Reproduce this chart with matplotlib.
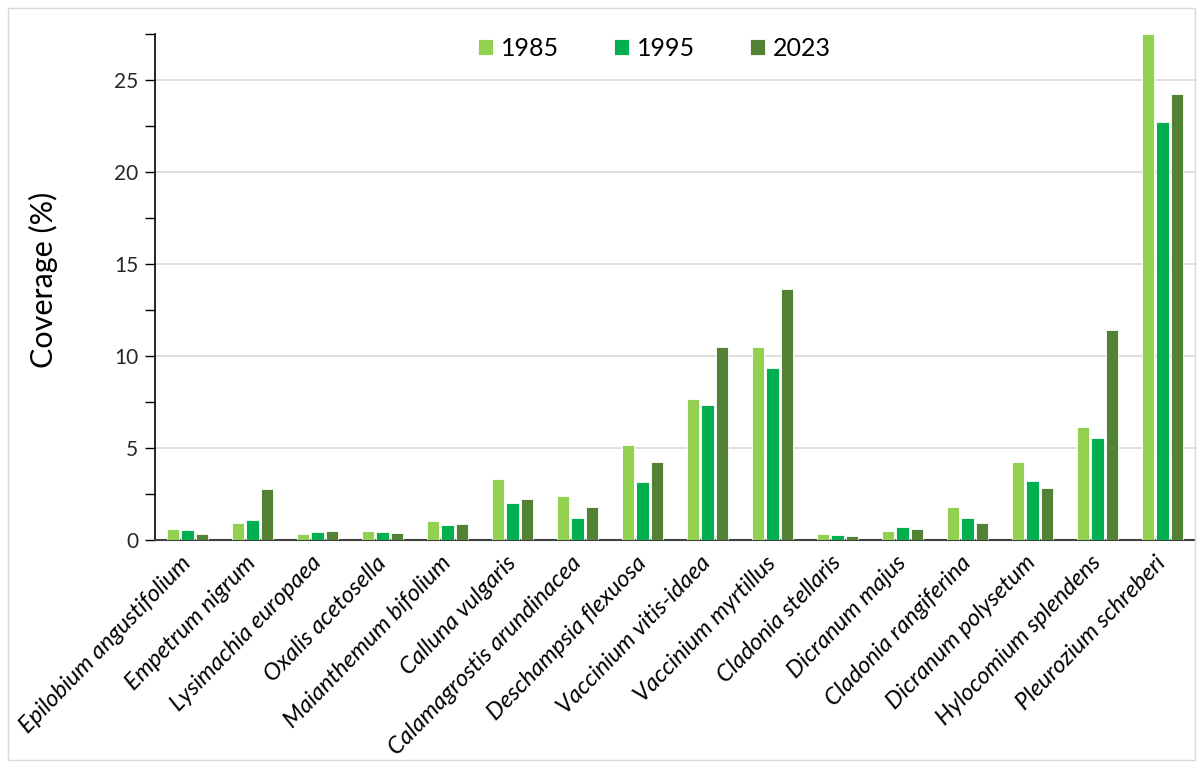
import matplotlib.pyplot as plt
import numpy as np
from matplotlib.patches import Rectangle
from matplotlib.ticker import MultipleLocator

plt.rcParams['font.family'] = ['Lato', 'DejaVu Sans']

# species names and coverage values
species = ["Epilobium angustifolium", "Empetrum nigrum", "Lysimachia europaea",
           "Oxalis acetosella", "Maianthemum bifolium", "Calluna vulgaris",
           "Calamagrostis arundinacea", "Deschampsia flexuosa", "Vaccinium vitis-idaea",
           "Vaccinium myrtillus", "Cladonia stellaris", "Dicranum majus",
           "Cladonia rangiferina", "Dicranum polysetum", "Hylocomium splendens",
           "Pleurozium schreberi"]
years = ["1985", "1995", "2023"]
cov_1985 = [0.58, 0.94, 0.33, 0.47, 1.03, 3.30, 2.41, 5.15, 7.65, 10.50, 0.31, 0.51, 1.81, 4.24, 6.13, 27.5]
cov_1995 = [0.57, 1.09, 0.43, 0.45, 0.83, 2.03, 1.18, 3.13, 7.32, 9.35, 0.27, 0.71, 1.21, 3.23, 5.55, 22.71]
cov_2023 = [0.33, 2.79, 0.47, 0.40, 0.89, 2.25, 1.81, 4.24, 10.50, 13.62, 0.24, 0.58, 0.95, 2.84, 11.42, 24.24]
colors = ["#92D050", "#00B050", "#548235"]

fig = plt.figure(figsize=(12.03, 7.62), dpi=100)
ax = fig.add_axes([155/1203, 1 - 540/762, 1040/1203, 506/762])

x = np.arange(len(species))
w = 0.19
step = 0.22
for i, (vals, c, lab) in enumerate(zip([cov_1985, cov_1995, cov_2023], colors, years)):
    ax.bar(x + (i - 1) * step, vals, width=w, color=c, edgecolor="white", linewidth=0.6, label=lab, zorder=3)

ax.set_xlim(-0.5, len(species) - 0.5)
ax.set_ylim(0, 27.5)
ax.yaxis.set_major_locator(MultipleLocator(5))
ax.yaxis.set_minor_locator(MultipleLocator(2.5))
ax.grid(axis="y", which="major", color="#d9d9d9", linewidth=1.2, zorder=0)
ax.set_axisbelow(True)

for s in ["top", "right"]:
    ax.spines[s].set_visible(False)
ax.spines["left"].set_color("black")
ax.spines["left"].set_linewidth(1.2)
ax.spines["bottom"].set_color("#404040")
ax.spines["bottom"].set_linewidth(1.5)

ax.tick_params(axis="y", which="major", length=7, width=1, labelsize=15, pad=5, colors="black", labelcolor="#262626")
ax.tick_params(axis="y", which="minor", length=7, width=1)
ax.tick_params(axis="x", length=0, pad=14)
ax.set_xticks(x)
ax.set_xticklabels(species, rotation=46, ha="right", va="center", rotation_mode="anchor",
                   fontsize=17, style="italic", color="black")

ax.set_ylabel("Coverage (%)", fontsize=22)
ax.yaxis.set_label_coords(-0.093, 0.515)

ax.legend(loc="center", ncol=3, frameon=False, fontsize=18, handlelength=0.6,
          handleheight=0.6, handletextpad=0.32, columnspacing=2.2, bbox_to_anchor=(0.48, 0.972))

fig.patches.append(Rectangle((8/1203, 0.002), 1 - 16/1203, 1 - 8/762 - 0.002, transform=fig.transFigure,
                             fill=False, edgecolor="#d9d9d9", linewidth=1))

fig.savefig("out.png", dpi=100)
